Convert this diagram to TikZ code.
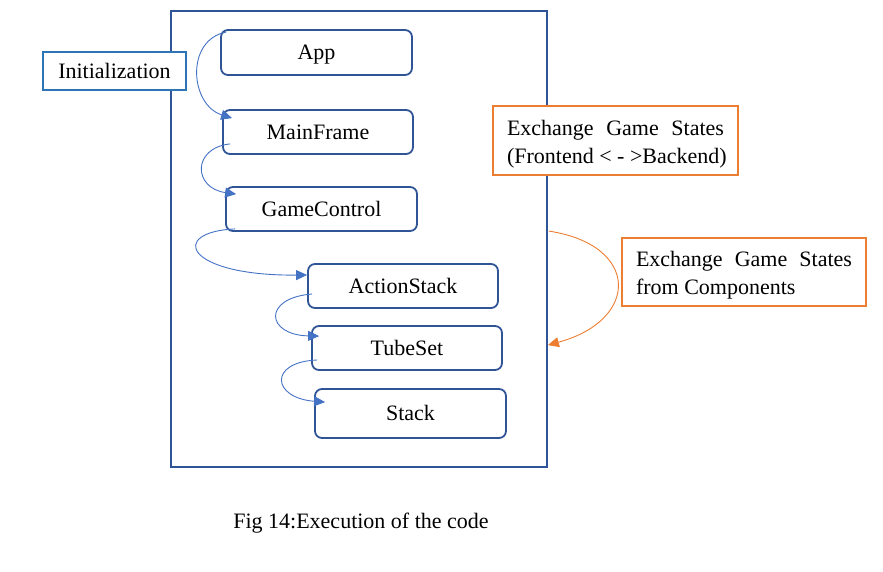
\documentclass[tikz,border=0pt]{standalone}
\usepackage{fontspec}
\setmainfont{Liberation Serif}
\usetikzlibrary{arrows.meta,calc}
\definecolor{frameblue}{HTML}{2F5597}
\definecolor{arrowblue}{HTML}{4472C4}
\definecolor{initblue}{HTML}{2E75B6}
\definecolor{orng}{HTML}{ED7D31}
\begin{document}
\begin{tikzpicture}[x=1pt,y=-1pt,
  font=\fontsize{22}{28}\selectfont,
  comp/.style={draw=frameblue, line width=1.8pt, rounded corners=7pt, fill=white,
    minimum width=190pt, minimum height=44pt, inner sep=0pt, text height=14.5pt, text depth=0pt},
  flow/.style={draw=arrowblue, line width=0.9pt, -{Triangle[length=11pt,width=10pt]}},
  oflow/.style={draw=orng, line width=0.9pt, -{Triangle[length=11pt,width=10pt]}},
  obox/.style={draw=orng, line width=1.8pt, fill=white, align=left, inner ysep=0pt,
    inner xsep=14pt, text height=48pt, text depth=3pt}]
\useasboundingbox (0,0) rectangle (883,571);
\node[draw=frameblue, line width=1.8pt, minimum width=376pt, minimum height=456pt, inner sep=0pt] (frame) at (359,239) {};
\node[draw=initblue, line width=1.4pt, fill=white, minimum width=143pt, minimum height=38pt, inner sep=0pt,
  text height=14.5pt, text depth=0pt] (init) at (114.5,71) {Initialization};
\node[comp, minimum width=191pt, minimum height=45pt] (app) at (316.5,52.5) {App};
\node[comp] (mf) at (318,132) {MainFrame};
\node[comp, minimum width=191pt] (gc) at (321.5,209) {GameControl};
\node[comp] (as) at (403,286) {ActionStack};
\node[comp] (ts) at (407,348) {TubeSet};
\node[comp, minimum width=191pt, minimum height=49pt] (st) at (410.5,413.5) {Stack};
\node[obox, minimum width=245pt, minimum height=69pt] (ex1) at (615.5,140.5)
  {\makebox[217pt][s]{Exchange Game States}\\\makebox[217pt][l]{(Frontend < - >Backend)}};
\node[obox, minimum width=244pt, minimum height=68pt] (ex2) at (744,272)
  {\makebox[216pt][s]{Exchange Game States}\\\makebox[216pt][l]{from Components}};
\node (cap) at (361,523) {Fig 14:Execution of the code};
\draw[flow] ($(app.north west)+(6,3)$) .. controls (185,40) and (190,105) .. ($(mf.north west)+(10,9)$);
\draw[flow] ($(mf.south west)+(8,-11)$) .. controls (192,148) and (193,188) .. ($(gc.north west)+(11,8)$);
\draw[flow] ($(gc.south west)+(10,-3)$) .. controls (168,232) and (185,276) .. ($(as.west)+(0,-11)$);
\draw[flow] ($(as.west)+(5,8)$) .. controls (262,298) and (266,335) .. ($(ts.north west)+(8,11)$);
\draw[flow] ($(ts.west)+(6,12)$) .. controls (268,362) and (272,398) .. ($(st.north west)+(11,14)$);
\draw[oflow] ($(frame.north east)+(1,221)$) .. controls (640,245) and (640,320) .. ($(frame.north east)+(0,335)$);
\end{tikzpicture}
\end{document}
